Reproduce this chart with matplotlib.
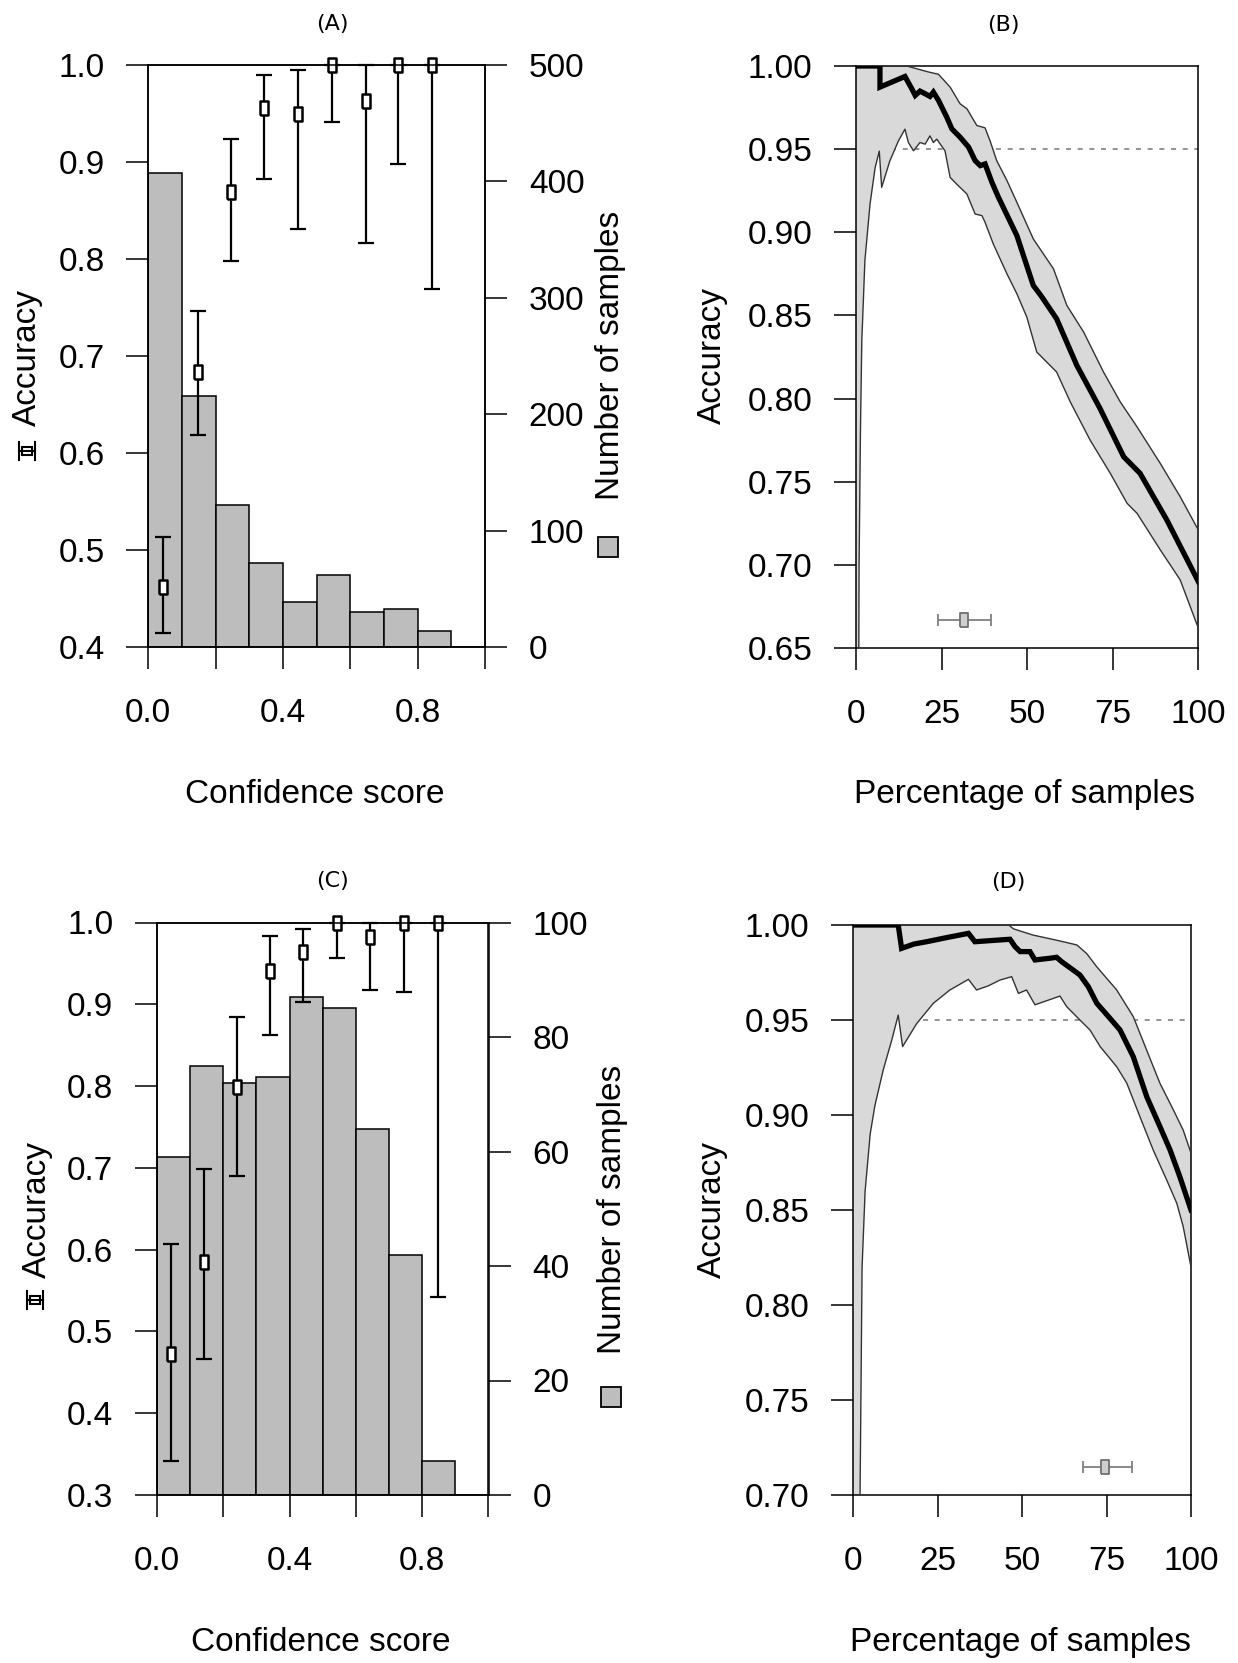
import matplotlib
matplotlib.use('Agg')
import matplotlib.pyplot as plt
import numpy as np
from matplotlib.lines import Line2D
from matplotlib.patches import Rectangle

plt.rcParams['font.family'] = ['Liberation Sans', 'DejaVu Sans']

# ---- histogram panels (A, C) ----
bin_left = [0.0, 0.1, 0.2, 0.3, 0.4, 0.5, 0.6, 0.7, 0.8, 0.9]

counts_a = [407, 216, 122, 72, 39, 62, 30, 33, 14, 0]
pt_x_a = [0.045, 0.148, 0.246, 0.345, 0.445, 0.547, 0.647, 0.743, 0.843]
acc_a = [0.462, 0.684, 0.869, 0.956, 0.949, 1.0, 0.963, 1.0, 1.0]
acc_lo_a = [0.414, 0.619, 0.798, 0.882, 0.831, 0.941, 0.817, 0.898, 0.769]
acc_hi_a = [0.513, 0.746, 0.924, 0.990, 0.995, 1.0, 1.0, 1.0, 1.0]

counts_c = [59, 75, 72, 73, 87, 85, 64, 42, 6, 0]
pt_x_c = [0.042, 0.141, 0.240, 0.340, 0.439, 0.543, 0.643, 0.744, 0.847]
acc_c = [0.473, 0.585, 0.799, 0.941, 0.964, 1.0, 0.982, 1.0, 1.0]
acc_lo_c = [0.342, 0.466, 0.690, 0.863, 0.903, 0.957, 0.917, 0.915, 0.542]
acc_hi_c = [0.607, 0.698, 0.885, 0.983, 0.992, 1.0, 1.0, 1.0, 1.0]

# ---- retention curves (B, D) ----
b_x = [0, 7.0, 7.0, 14.3, 16.3, 17.3, 18.7, 20.2, 21.6, 22.6, 24.1, 26.5, 28.0,
       30.4, 32.9, 34.8, 36.3, 37.7, 39.7, 41.6, 47.0, 51.8, 54.0, 58.6, 64.5,
       71.3, 78.2, 83.0, 90.8, 100]
b_y = [1.0, 1.0, 0.9873, 0.9937, 0.9863, 0.9823, 0.9849, 0.9833, 0.9817, 0.9843,
       0.9793, 0.9693, 0.9622, 0.9572, 0.9512, 0.9431, 0.9401, 0.9411, 0.9301,
       0.9211, 0.898, 0.868, 0.862, 0.848, 0.820, 0.794, 0.765, 0.755, 0.727, 0.690]
b_up_x = [0, 14.8, 21.2, 24.1, 27.5, 30.4, 32.4, 35.3, 37.7, 39.2, 41.1, 44.1,
          47.0, 51.8, 57.7, 61.6, 66.5, 72.3, 77.2, 82.1, 88.9, 94.7, 100]
b_up_y = [1.0, 1.0, 0.9964, 0.995, 0.9873, 0.9773, 0.9743, 0.9642, 0.9628,
          0.9548, 0.9431, 0.9311, 0.918, 0.896, 0.878, 0.856, 0.840, 0.816,
          0.798, 0.783, 0.761, 0.741, 0.721]
b_lo_x = [0, 0.5, 0.9, 1.3, 1.7, 2.6, 4.1, 5.6, 6.8, 7.5, 9.9, 12.4, 14.3, 15.3,
          16.8, 18.7, 20.2, 21.6, 22.6, 23.6, 26.0, 27.5, 29.4, 32.4, 34.8, 36.8,
          37.7, 40.1, 44.1, 47.0, 49.9, 52.8, 58.6, 62.6, 68.4, 74.3, 79.2, 82.1,
          88.9, 94.7, 100]
b_lo_y = [0.0, 0.45, 0.70, 0.78, 0.835, 0.883, 0.917, 0.939, 0.9488, 0.927,
          0.943, 0.955, 0.962, 0.954, 0.949, 0.954, 0.953, 0.958, 0.954, 0.956,
          0.949, 0.933, 0.929, 0.923, 0.911, 0.910, 0.906, 0.893, 0.875, 0.863,
          0.849, 0.828, 0.816, 0.798, 0.775, 0.755, 0.737, 0.731, 0.709, 0.691,
          0.662]
b_cov = 31.5
b_cov_lo, b_cov_hi = 23.9, 39.3
b_cov_y = 0.667

d_x = [0, 13.3, 14.3, 18.0, 21.7, 28.0, 34.1, 36.0, 46.4, 47.9, 49.4, 52.3,
       53.8, 58.2, 60.2, 61.7, 67.1, 69.6, 72.1, 76.0, 79.0, 82.9, 86.9, 90.8,
       93.8, 96.7, 100]
d_y = [1.0, 1.0, 0.9877, 0.990, 0.9912, 0.9935, 0.9956, 0.9912, 0.9925, 0.9886,
       0.986, 0.986, 0.9816, 0.9825, 0.983, 0.9807, 0.9737, 0.9675, 0.9588,
       0.9509, 0.9447, 0.9307, 0.9096, 0.8939, 0.8816, 0.8675, 0.850]
d_up_x = [0, 46.0, 47.4, 53.2, 60.2, 66.2, 69.1, 72.1, 78.0, 82.9, 86.9, 90.8,
          94.8, 97.7, 100]
d_up_y = [1.0, 1.0, 0.998, 0.9947, 0.992, 0.9895, 0.985, 0.978, 0.9658, 0.9518,
          0.934, 0.9167, 0.9026, 0.892, 0.880]
d_lo_x = [0, 1.8, 2.0, 2.6, 3.5, 5.0, 6.4, 8.9, 11.4, 13.3, 14.6, 18.8, 23.7,
          28.6, 34.1, 36.5, 40.0, 43.4, 46.9, 48.9, 51.3, 53.8, 61.2, 63.2, 67.1,
          70.1, 73.1, 78.0, 81.0, 84.9, 88.8, 92.8, 95.8, 97.7, 100]
d_lo_y = [0.0, 0.50, 0.70, 0.82, 0.86, 0.89, 0.905, 0.924, 0.9395, 0.9526,
          0.936, 0.9482, 0.9588, 0.9658, 0.9714, 0.9658, 0.968, 0.971, 0.9728,
          0.964, 0.9658, 0.958, 0.9626, 0.957, 0.950, 0.9447, 0.936, 0.9254,
          0.9167, 0.899, 0.8816, 0.8658, 0.8535, 0.8412, 0.820]
d_cov = 74.4
d_cov_lo, d_cov_hi = 68.1, 82.4
d_cov_y = 0.715

target_acc = 0.95

W, H = 1238, 1663
fig = plt.figure(figsize=(W / 100, H / 100), dpi=100)


def fx(px):
    return px / W


def fy(py):
    return 1 - py / H


def box(x0, y0, x1, y1):
    return [fx(x0), fy(y1), (x1 - x0) / W, (y1 - y0) / H]


def style(ax):
    for s in ax.spines.values():
        s.set_linewidth(1.1)
    ax.tick_params(direction='out', length=15.5, width=1.1, labelsize=24)
    ax.tick_params(axis='x', pad=21)
    ax.tick_params(axis='y', pad=16)


tall_box = [(-0.6, -1), (0.6, -1), (0.6, 1), (-0.6, 1), (-0.6, -1)]


def hist_panel(rect, counts, cmax, cstep, ymin, px, acc, lo, hi):
    ax = fig.add_axes(rect)
    ax2 = ax.twinx()
    ax2.bar(bin_left, counts, width=0.1, align='edge', color='#bdbdbd',
            edgecolor='black', linewidth=1.1)
    ax2.set_ylim(0, cmax)
    ax2.set_yticks(np.arange(0, cmax + 1, cstep))
    ax.set_zorder(ax2.get_zorder() + 1)
    ax.patch.set_visible(False)

    acc = np.array(acc)
    yerr = [acc - np.array(lo), np.array(hi) - acc]
    ax.errorbar(px, acc, yerr=yerr, fmt='none', ecolor='black',
                elinewidth=1.6, capsize=6, capthick=1.6, clip_on=False)
    ax.plot(px, acc, ls='none', marker=tall_box, ms=10, mfc='white',
            mec='black', mew=1.8, clip_on=False)

    ax.set_xlim(0, 1.0)
    ax.set_ylim(ymin, 1.0)
    ax.set_yticks(np.round(np.arange(ymin, 1.001, 0.1), 1))
    ax.set_yticklabels(['%.1f' % v for v in np.arange(ymin, 1.001, 0.1)])
    ax.set_xticks([0, 0.2, 0.4, 0.6, 0.8, 1.0])
    ax.set_xticklabels(['0.0', '', '0.4', '', '0.8', ''])
    style(ax)
    style(ax2)
    return ax


def curve_panel(rect, ymin, xs, ys, upx, upy, lox, loy, cx, clo, chi, cy):
    ax = fig.add_axes(rect)
    ax.plot([0, 100], [target_acc, target_acc], ls=(0, (3, 4)),
            color='#808080', lw=1.2, zorder=1)
    ax.fill(np.r_[upx, lox[::-1]], np.r_[upy, loy[::-1]], color='#d9d9d9',
            lw=0, zorder=2)
    ax.plot(upx, upy, color='#333333', lw=1.0, zorder=3)
    ax.plot(lox, loy, color='#333333', lw=1.0, zorder=3)
    ax.plot(xs, ys, color='black', lw=3.8, zorder=4, solid_joinstyle='miter')
    ax.errorbar([cx], [cy], xerr=[[cx - clo], [chi - cx]], fmt='none',
                ecolor='#808080', elinewidth=1.3, capsize=4.5, capthick=1.3,
                zorder=5)
    ax.plot([cx], [cy], ls='none', marker=tall_box, ms=10, mfc='#cfcfcf',
            mec='#707070', mew=1.3, zorder=6)
    ax.set_xlim(0, 100)
    ax.set_ylim(ymin, 1.0)
    ticks = np.arange(ymin, 1.0001, 0.05)
    ax.set_yticks(ticks)
    ax.set_yticklabels(['%.2f' % v for v in ticks])
    ax.set_xticks([0, 25, 50, 75, 100])
    style(ax)
    return ax


hist_panel(box(148.3, 65, 485, 647), counts_a, 500, 100, 0.4,
           pt_x_a, acc_a, acc_lo_a, acc_hi_a)
curve_panel(box(856, 66, 1198.3, 648), 0.65, b_x, b_y,
            np.array(b_up_x), np.array(b_up_y), np.array(b_lo_x),
            np.array(b_lo_y), b_cov, b_cov_lo, b_cov_hi, b_cov_y)
hist_panel(box(157, 922.5, 488.5, 1495), counts_c, 100, 20, 0.3,
           pt_x_c, acc_c, acc_lo_c, acc_hi_c)
curve_panel(box(853.3, 925, 1191, 1495), 0.70, d_x, d_y,
            np.array(d_up_x), np.array(d_up_y), np.array(d_lo_x),
            np.array(d_lo_y), d_cov, d_cov_lo, d_cov_hi, d_cov_y)

# titles
for t, x, y in [('(A)', 332, 24), ('(B)', 1003, 25), ('(C)', 333, 881),
                ('(D)', 1008, 882)]:
    fig.text(fx(x), fy(y), t, ha='center', va='center', fontsize=16,
             family='DejaVu Sans')

# x labels
for t, x, y in [('Confidence score', 315, 803), ('Percentage of samples', 1025, 803),
                ('Confidence score', 321, 1651), ('Percentage of samples', 1020, 1651)]:
    fig.text(fx(x), fy(y), t, ha='center', va='baseline', fontsize=24)

# y labels
for t, x, y in [('Accuracy', 27, 357), ('Accuracy', 712, 356),
                ('Accuracy', 37, 1209), ('Accuracy', 712, 1209),
                ('Number of samples', 611, 355), ('Number of samples', 613, 1209)]:
    fig.text(fx(x), fy(y), t, ha='center', va='center', fontsize=24,
             rotation=90)


# legend keys drawn beside the axis labels
def errbar_key(cx, cy):
    k = dict(color='black', lw=1.5, transform=fig.transFigure)
    fig.add_artist(Line2D([fx(cx - 8), fx(cx + 8)], [fy(cy), fy(cy)], **k))
    fig.add_artist(Line2D([fx(cx - 8), fx(cx - 8)], [fy(cy - 9), fy(cy + 9)], **k))
    fig.add_artist(Line2D([fx(cx + 8), fx(cx + 8)], [fy(cy - 9), fy(cy + 9)], **k))
    fig.add_artist(Rectangle((fx(cx - 5), fy(cy + 4)), 10 / W, 8 / H,
                             facecolor='white', edgecolor='black', lw=1.5,
                             transform=fig.transFigure))


def bar_key(cx, cy):
    fig.add_artist(Rectangle((fx(cx - 10), fy(cy + 10)), 20 / W, 20 / H,
                             facecolor='#bdbdbd', edgecolor='black', lw=1.3,
                             transform=fig.transFigure))


errbar_key(27, 451)
errbar_key(35, 1300)
bar_key(608, 547)
bar_key(611, 1397)

fig.savefig('out.png', dpi=100)
plt.close(fig)
